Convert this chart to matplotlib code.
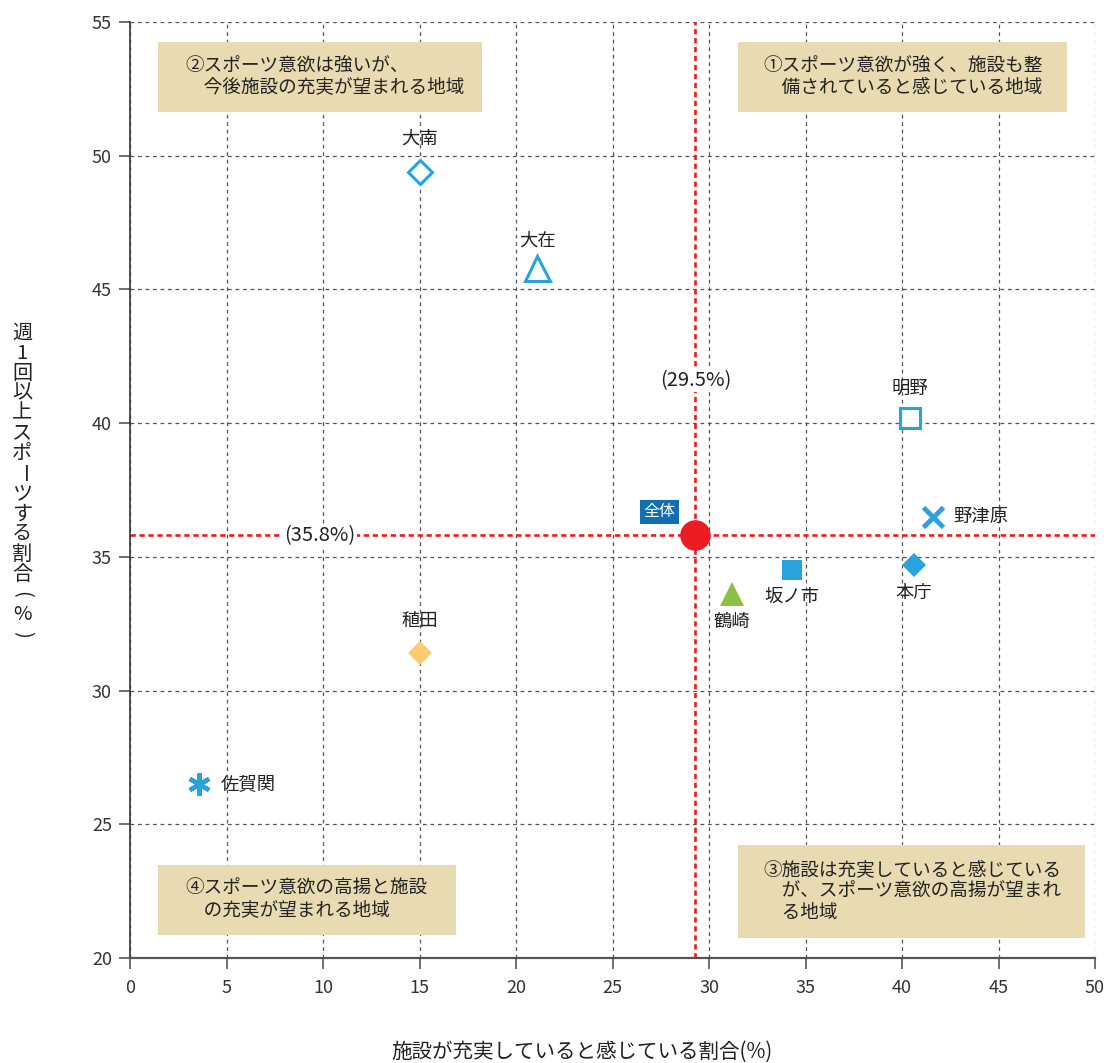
import matplotlib
matplotlib.use("Agg")
import matplotlib.pyplot as plt
from matplotlib.patches import Rectangle

plt.rcParams['font.family'] = ['Noto Sans CJK JP', 'DejaVu Sans']

# ---- data ----
areas = ['大南', '大在', '明野', '野津原', '本庁', '坂ノ市', '鶴崎', '稙田', '佐賀関']
facility_pct = [15.0, 21.1, 40.4, 41.6, 40.6, 34.3, 31.2, 15.0, 3.6]
sport_pct = [49.4, 45.8, 40.2, 36.5, 34.7, 34.5, 33.6, 31.4, 26.5]
overall_name = '全体'
overall_x = 29.3
overall_y = 35.8
overall_x_label = '(29.5%)'
overall_y_label = '(35.8%)'
x_ticks = [0, 5, 10, 15, 20, 25, 30, 35, 40, 45, 50]
y_ticks = [20, 25, 30, 35, 40, 45, 50, 55]
quadrant_texts = [
    '②スポーツ意欲は強いが、\n\u3000今後施設の充実が望まれる地域',
    '①スポーツ意欲が強く、施設も整\n\u3000備されていると感じている地域',
    '④スポーツ意欲の高揚と施設\n\u3000の充実が望まれる地域',
    '③施設は充実していると感じている\n\u3000が、スポーツ意欲の高揚が望まれ\n\u3000る地域',
]
x_label = '施設が充実していると感じている割合(%)'
y_label = '週1回以上スポーツする割合(%)'

# ---- styles ----
BLUE = '#29A3DC'
styles = {
    '大南': dict(marker='D', ms=12.5, mfc='white', mec=BLUE, mew=2.2),
    '大在': dict(marker='^', ms=18, mfc='white', mec=BLUE, mew=2.2),
    '明野': dict(marker='s', ms=14, mfc='white', mec=BLUE, mew=2.2),
    '野津原': dict(marker='x', ms=15, mec=BLUE, mew=3.5),
    '本庁': dict(marker='D', ms=12.5, mfc=BLUE, mec=BLUE, mew=0),
    '坂ノ市': dict(marker='s', ms=15, mfc=BLUE, mec=BLUE, mew=0),
    '鶴崎': dict(marker='^', ms=17, mfc='#8CC043', mec='#8CC043', mew=0),
    '稙田': dict(marker='D', ms=12.5, mfc='#FDCA70', mec='#FDCA70', mew=0),
    '佐賀関': dict(marker=(6, 2, 0), ms=16, mec=BLUE, mew=3.2),
}
# label offsets in points (dx, dy, ha, va)
label_pos = {
    '大南': (0, 24, 'center', 'center'),
    '大在': (0, 20, 'center', 'center'),
    '明野': (0, 21, 'center', 'center'),
    '野津原': (15, 0, 'left', 'center'),
    '本庁': (0, -20, 'center', 'center'),
    '坂ノ市': (0, -19, 'center', 'center'),
    '鶴崎': (0, -20, 'center', 'center'),
    '稙田': (0, 23, 'center', 'center'),
    '佐賀関': (15, 0, 'left', 'center'),
}

fig = plt.figure(figsize=(11.07, 10.63), dpi=100)
ax = fig.add_axes([130/1107, 1-958/1063, 965/1107, 936/1063])
ax.set_xlim(0, 50)
ax.set_ylim(20, 55)
ax.set_xticks(x_ticks)
ax.set_yticks(y_ticks)
ax.grid(True, color='#555555', linestyle=(0, (3, 3)), linewidth=0.9)
ax.set_axisbelow(True)
for s in ['top', 'right']:
    ax.spines[s].set_visible(False)
ax.spines['left'].set_color('#333333')
ax.spines['left'].set_linewidth(1.2)
ax.spines['bottom'].set_color('#555555')
ax.spines['bottom'].set_linewidth(1.6)
ax.tick_params(axis='both', colors='#555555', labelcolor='#333333', labelsize=13,
               length=8, width=1.2)
ax.tick_params(axis='x', pad=7)
ax.tick_params(axis='y', pad=5)

# quadrant boxes
box_coords = [
    (0.029, 0.9038, 0.336, 0.0748),
    (0.630, 0.9038, 0.341, 0.0748),
    (0.029, 0.0246, 0.309, 0.0748),
    (0.630, 0.0214, 0.3596, 0.0993),
]
text_x = [0.057, 0.656, 0.057, 0.656]
for (x0, y0, w, h), tx, txt in zip(box_coords, text_x, quadrant_texts):
    ax.add_patch(Rectangle((x0, y0), w, h, transform=ax.transAxes,
                           facecolor='#E9DBB1', edgecolor='none', zorder=1.5))
    ax.text(tx, y0 + h / 2, txt, transform=ax.transAxes, ha='left', va='center',
            fontsize=13.4, color='#222222', linespacing=1.27, zorder=2)

# reference lines
ax.axvline(overall_x, color='#ED1C24', linestyle=(0, (2, 1.4)), linewidth=1.9, zorder=2.2)
ax.axhline(overall_y, color='#ED1C24', linestyle=(0, (2, 1.4)), linewidth=1.9, zorder=2.2)
ax.text(overall_x, 41.6, overall_x_label, ha='center', va='center', fontsize=14.5,
        color='#222222', zorder=2.5,
        bbox=dict(facecolor='white', edgecolor='none', pad=1))
ax.text(9.85, overall_y, overall_y_label, ha='center', va='center', fontsize=14.5,
        color='#222222', zorder=2.5,
        bbox=dict(facecolor='white', edgecolor='none', pad=1))

# points
for name, x, y in zip(areas, facility_pct, sport_pct):
    ax.plot([x], [y], linestyle='none', zorder=3, clip_on=False, **styles[name])
    dx, dy, ha, va = label_pos[name]
    ax.annotate(name, (x, y), xytext=(dx, dy), textcoords='offset points',
                ha=ha, va=va, fontsize=13.2, color='#222222', zorder=4)

ax.plot([overall_x], [overall_y], marker='o', ms=21, color='#ED1C24',
        linestyle='none', zorder=3.5)
ax.annotate(overall_name, (overall_x, overall_y), xytext=(-26, 17),
            textcoords='offset points', ha='center', va='center', fontsize=11.5,
            color='white', zorder=4,
            bbox=dict(facecolor='#0F6EB4', edgecolor='none', boxstyle='square,pad=0.22'))

# axis labels
fig.text(582/1107, 1-1052/1063, x_label, ha='center', va='center',
         fontsize=14.8, color='#222222')
top_px, step_px = 333, 20.1
for i, ch in enumerate(y_label):
    rot = -90 if ch in 'ー()' else 0
    fig.text(22/1107, 1 - (top_px + i * step_px) / 1063, ch, ha='center', va='center',
             rotation=rot, fontsize=14.5, color='#222222')

fig.savefig('out.png', dpi=100)
